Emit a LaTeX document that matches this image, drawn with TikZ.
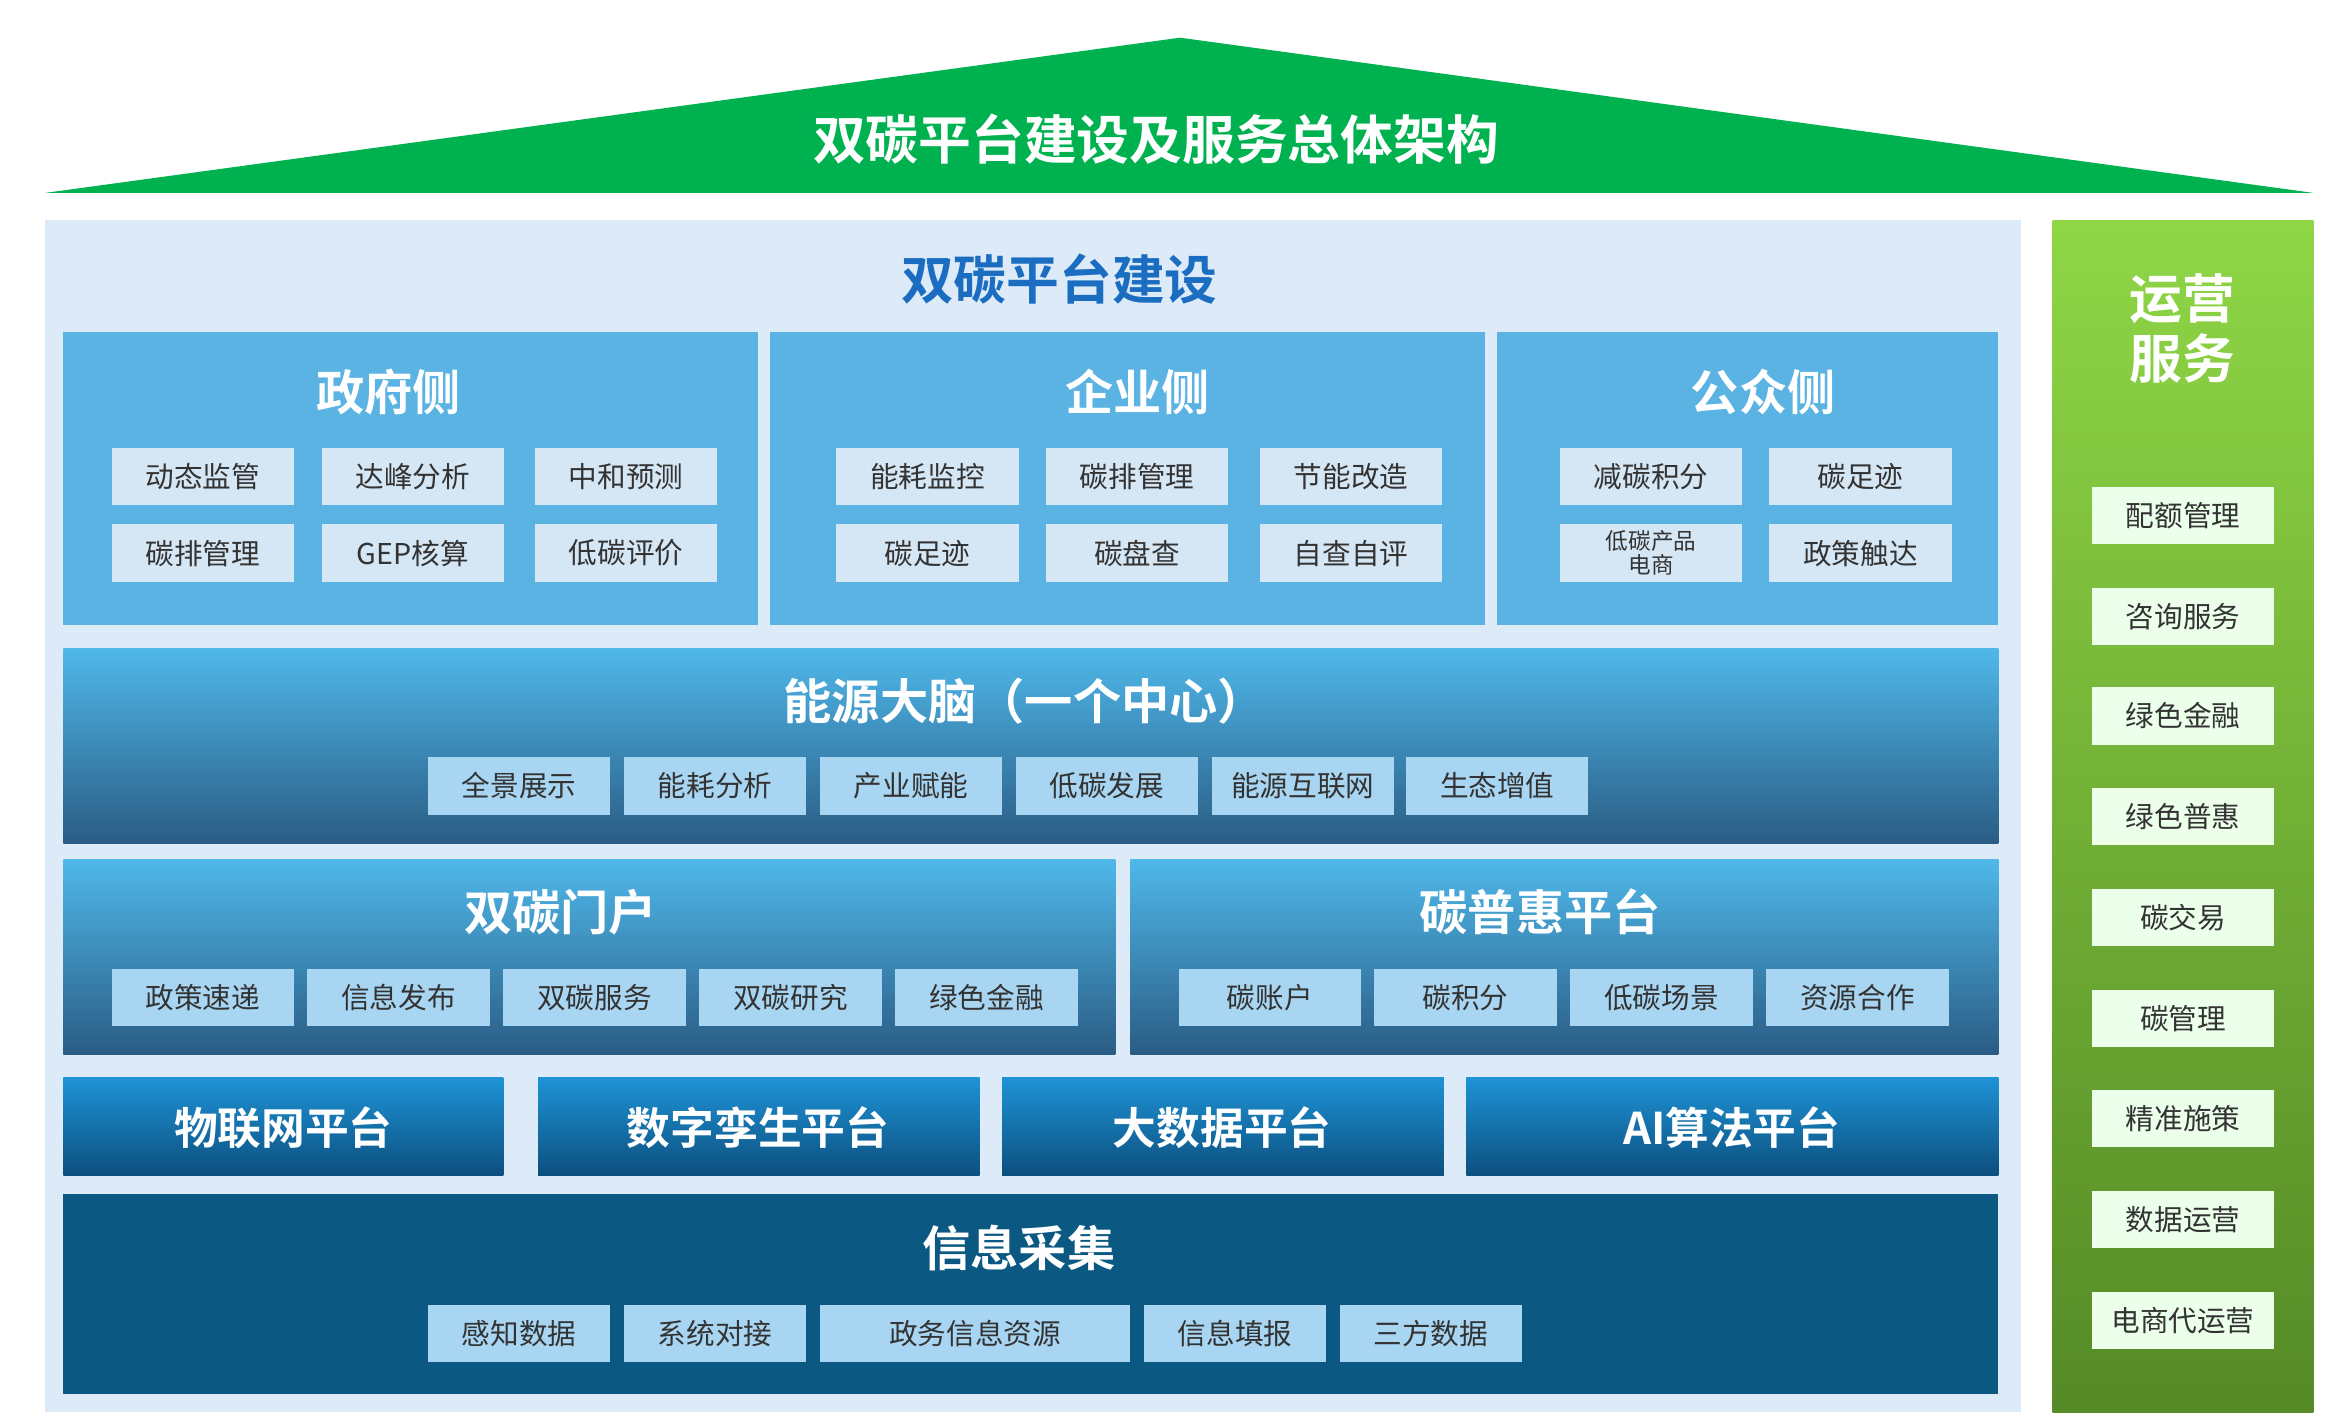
\documentclass[tikz,border=0pt]{standalone}
\usepackage{fontspec}
\setmainfont{Noto Sans CJK SC}
\newfontfamily\cjkb{Noto Sans CJK SC Bold}
\definecolor{roofg}{HTML}{00B14F}
\definecolor{bgl}{HTML}{DDEAF8}
\definecolor{panel}{HTML}{5AB3E2}
\definecolor{sbox}{HTML}{D5E6F4}
\definecolor{mbox}{HTML}{A8D5F1}
\definecolor{ttlblue}{HTML}{1B6DC1}
\definecolor{info}{HTML}{0B5882}
\definecolor{brtop}{HTML}{4FB8EA}
\definecolor{brbot}{HTML}{2A5C84}
\definecolor{pltop}{HTML}{1E93D6}
\definecolor{plbot}{HTML}{0C4F7E}
\definecolor{grtop}{HTML}{8FD646}
\definecolor{grbot}{HTML}{558A26}
\tikzset{
 sb/.style={fill=sbox,minimum width=121pt,minimum height=38pt,inner sep=0pt,font=\fontsize{19}{20}\selectfont,text=black!80},
 mb/.style={sb,fill=mbox},
 gb/.style={sb,fill=green!8!white},
 wt/.style={text=white,font=\cjkb\fontsize{32}{34}\selectfont},
}
\begin{document}
\begin{tikzpicture}[x=1pt,y=-1pt]
\useasboundingbox (0,0) rectangle (1552,940);
\fill[white] (0,0) rectangle (1552,940);
% roof
\fill[roofg] (30,128) -- (783,25) -- (1535,128) -- cycle;
\node[wt,font=\cjkb\fontsize{35}{36}\selectfont] (title) at (767,92) {双碳平台建设及服务总体架构};
% main bg
\fill[bgl] (30,146) rectangle (1341,937);
\node[text=ttlblue,font=\cjkb\fontsize{35}{36}\selectfont] (main) at (703,185) {双碳平台建设};
% panels
\fill[panel] (42,220) rectangle (503,415);
\fill[panel] (511,220) rectangle (985,415);
\fill[panel] (993,220) rectangle (1326,415);
\node[wt] (gov) at (258,260) {政府侧};
\node[wt] (ent) at (755,260) {企业侧};
\node[wt] (pub) at (1170,260) {公众侧};
\node[sb] (g1) at (134.5,316) {动态监管};
\node[sb] (g2) at (274,316) {达峰分析};
\node[sb] (g3) at (415.5,316) {中和预测};
\node[sb] (g4) at (134.5,367) {碳排管理};
\node[sb] (g5) at (274,367) {GEP核算};
\node[sb] (g6) at (415.5,367) {低碳评价};
\node[sb] (e1) at (615.5,316) {能耗监控};
\node[sb] (e2) at (754.5,316) {碳排管理};
\node[sb] (e3) at (896.5,316) {节能改造};
\node[sb] (e4) at (615.5,367) {碳足迹};
\node[sb] (e5) at (754.5,367) {碳盘查};
\node[sb] (e6) at (896.5,367) {自查自评};
\node[sb] (p1) at (1095.5,316) {减碳积分};
\node[sb] (p2) at (1234.5,316) {碳足迹};
\node[sb,font=\fontsize{15}{16}\selectfont,align=center] (p3) at (1095.5,367) {低碳产品\\电商};
\node[sb] (p4) at (1234.5,367) {政策触达};
% energy brain
\shade[top color=brtop,bottom color=brbot] (42,430) rectangle (1326,560);
\node[wt] (brain) at (680,465) {能源大脑（一个中心）};
\foreach \n/\x/\t in {b1/344.5/全景展示,b2/474.5/能耗分析,b3/604.5/产业赋能,b4/734.5/低碳发展,b5/864.5/能源互联网,b6/993.5/生态增值}
  \node[mb] (\n) at (\x,521.5) {\t};
% portals
\shade[top color=brtop,bottom color=brbot] (42,570) rectangle (740,700);
\shade[top color=brtop,bottom color=brbot] (750,570) rectangle (1326,700);
\node[wt] (portal) at (372,605) {双碳门户};
\node[wt] (cph) at (1022,605) {碳普惠平台};
\foreach \n/\x/\t in {d1/134.5/政策速递,d2/264.5/信息发布,d3/394.5/双碳服务,d4/524.5/双碳研究,d5/654.5/绿色金融,c1/842.5/碳账户,c2/972.5/碳积分,c3/1102.5/低碳场景,c4/1232.5/资源合作}
  \node[mb] (\n) at (\x,662) {\t};
% platforms
\foreach \a/\b in {42/334,357/650,665/958,973/1326}
  \shade[top color=pltop,bottom color=plbot] (\a,715) rectangle (\b,780);
\node[wt,font=\cjkb\fontsize{29}{30}\selectfont] (iot) at (188,748) {物联网平台};
\node[wt,font=\cjkb\fontsize{29}{30}\selectfont] (twin) at (503,748) {数字孪生平台};
\node[wt,font=\cjkb\fontsize{29}{30}\selectfont] (bd) at (811,748) {大数据平台};
\node[wt,font=\cjkb\fontsize{29}{30}\selectfont] (ai) at (1149,748) {AI算法平台};
% info
\fill[info] (42,792) rectangle (1326,925);
\node[wt] (infot) at (676,828) {信息采集};
\node[mb] (i1) at (344.5,885) {感知数据};
\node[mb] (i2) at (474.5,885) {系统对接};
\node[mb,minimum width=206pt] (i3) at (647,885) {政务信息资源};
\node[mb] (i4) at (819.5,885) {信息填报};
\node[mb] (i5) at (949.5,885) {三方数据};
% right column
\shade[top color=grtop,bottom color=grbot] (1362,146) rectangle (1535,937);
\node[wt,font=\cjkb\fontsize{35}{40}\selectfont,align=center] (ops) at (1448,218) {运营\\服务};
\foreach \n/\y/\t in {r1/323/配额管理,r2/390/咨询服务,r3/456/绿色金融,r4/523/绿色普惠,r5/590/碳交易,r6/657/碳管理,r7/723/精准施策,r8/790/数据运营,r9/857/电商代运营}
  \node[gb] (\n) at (1448.5,\y+19) {\t};
\end{tikzpicture}
\end{document}
